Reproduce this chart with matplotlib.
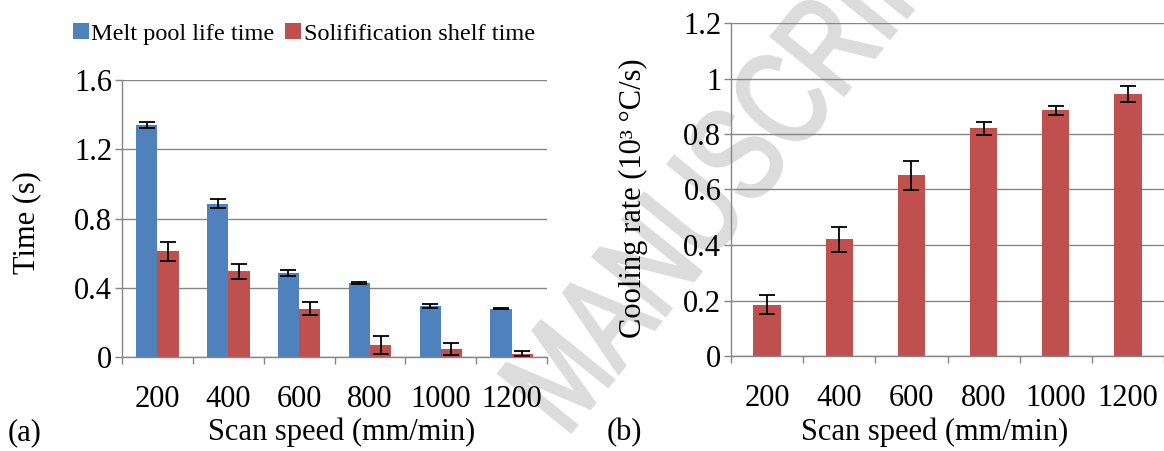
import numpy as np
import matplotlib
matplotlib.use("Agg")
import matplotlib.pyplot as plt
from matplotlib.patches import Patch, PathPatch
from matplotlib.textpath import TextPath
from matplotlib.font_manager import FontProperties
from matplotlib.transforms import Affine2D
from matplotlib.ticker import FixedLocator, NullFormatter

# scan speeds (mm/min)
speeds = ["200", "400", "600", "800", "1000", "1200"]

# (a) melt pool life time and solidification shelf time (s)
melt_life = [1.34, 0.885, 0.485, 0.425, 0.295, 0.28]
melt_life_err = [0.02, 0.025, 0.015, 0.006, 0.012, 0.005]
solid_shelf = [0.61, 0.495, 0.28, 0.07, 0.045, 0.02]
solid_shelf_err = [0.055, 0.045, 0.035, 0.05, 0.035, 0.015]

# (b) cooling rate (10^3 C/s)
cooling = [0.185, 0.42, 0.652, 0.82, 0.885, 0.945]
cooling_err = [0.035, 0.045, 0.052, 0.025, 0.015, 0.028]

BLUE = "#4F81BD"
RED = "#C0504D"
GRID = "#868686"
FONTSIZE = 22

plt.rcParams["font.family"] = ["Liberation Serif", "DejaVu Serif"]
plt.rcParams["font.size"] = FONTSIZE

W, H = 1164, 451
fig = plt.figure(figsize=(W / 100, H / 100), dpi=100)

# watermark: narrow, tall lettering laid diagonally behind the plots
wm_path = TextPath((0, 0), "MANUSCRIPT", size=1,
                   prop=FontProperties(family="Liberation Sans"))
wm_tr = (Affine2D().scale(100, 135).rotate_deg(51).translate(566, 13)
         .scale(1 / 100) + fig.dpi_scale_trans)
fig.add_artist(PathPatch(wm_path, facecolor="#dcdcdc", edgecolor="#dcdcdc",
                         lw=2.5, transform=wm_tr, zorder=-10))


def style_axes(ax, ymax, ystep, yticklabels):
    x = np.arange(len(speeds))
    ax.set_facecolor("none")
    ax.set_xlim(-0.5, len(speeds) - 0.5)
    ax.set_ylim(0, ymax)
    yt = np.arange(0, ymax + ystep / 2, ystep)
    ax.set_yticks(yt)
    ax.set_yticklabels(yticklabels)
    ax.yaxis.grid(True, color=GRID, linewidth=1.0)
    ax.set_axisbelow(True)
    ax.set_xticks(x)
    ax.set_xticklabels(speeds)
    # category separators as minor ticks
    ax.xaxis.set_minor_locator(FixedLocator(np.arange(-0.5, len(speeds), 1.0)))
    ax.xaxis.set_minor_formatter(NullFormatter())
    ax.tick_params(axis="x", which="major", length=0, pad=20, labelsize=FONTSIZE)
    ax.tick_params(axis="x", which="minor", length=5, width=1.0, color=GRID,
                   direction="out")
    ax.tick_params(axis="y", length=5, width=1.0, color=GRID, pad=2,
                   labelsize=FONTSIZE)
    for s in ["top", "right"]:
        ax.spines[s].set_visible(False)
    for s in ["left", "bottom"]:
        ax.spines[s].set_color(GRID)
        ax.spines[s].set_linewidth(1.0)


err_kw = dict(ecolor="black", elinewidth=1.3, capsize=5.5, capthick=1.3)
x = np.arange(len(speeds))

# (a)
ax1 = fig.add_axes([122 / W, 1 - 357 / H, 425 / W, 277 / H])
w = 0.3
ax1.bar(x - w / 2, melt_life, w, color=BLUE, yerr=melt_life_err, error_kw=err_kw)
ax1.bar(x + w / 2, solid_shelf, w, color=RED, yerr=solid_shelf_err, error_kw=err_kw)
style_axes(ax1, 1.6, 0.4, ["0", "0.4", "0.8", "1.2", "1.6"])

handles = [Patch(facecolor=BLUE), Patch(facecolor=RED)]
fig.legend(handles, ["Melt pool life time", "Solifification shelf time"],
           loc="center left", bbox_to_anchor=(73 / W, 1 - 34 / H),
           ncol=2, frameon=False, fontsize=17.5, handlelength=0.65,
           handleheight=0.65, handletextpad=0.1, columnspacing=0.45,
           borderpad=0, borderaxespad=0)

fig.text(27 / W, 1 - 223 / H, "Time (s)", rotation=90,
         ha="center", va="center", fontsize=FONTSIZE)
fig.text(342 / W, 1 - 440 / H, "Scan speed (mm/min)",
         ha="center", va="baseline", fontsize=FONTSIZE)
fig.text(25 / W, 1 - 440 / H, "(a)", ha="center", va="baseline",
         fontsize=FONTSIZE)

# (b)
ax2 = fig.add_axes([731 / W, 1 - 356 / H, 433 / W, 333 / H])
ax2.bar(x, cooling, 0.38, color=RED, yerr=cooling_err, error_kw=err_kw)
style_axes(ax2, 1.2, 0.2, ["0", "0.2", "0.4", "0.6", "0.8", "1", "1.2"])

fig.text(633 / W, 1 - 198 / H, "Cooling rate (10³ °C/s)", rotation=90,
         ha="center", va="center", fontsize=FONTSIZE)
fig.text(935 / W, 1 - 440 / H, "Scan speed (mm/min)",
         ha="center", va="baseline", fontsize=FONTSIZE)
fig.text(624 / W, 1 - 440 / H, "(b)", ha="center", va="baseline",
         fontsize=FONTSIZE)

fig.savefig("out.png", dpi=100, facecolor="white")
